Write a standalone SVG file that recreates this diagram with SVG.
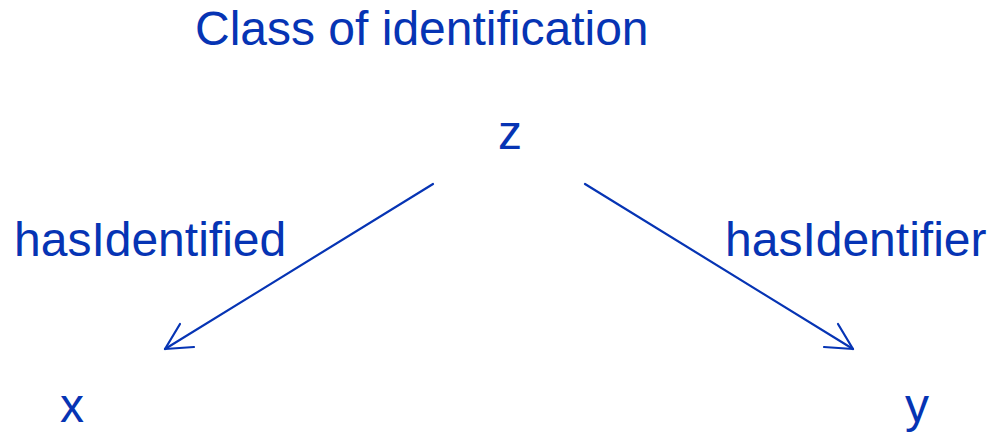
<svg xmlns="http://www.w3.org/2000/svg" width="990" height="432" viewBox="0 0 990 432">
<style>
text{font-family:"Liberation Sans",Arial,sans-serif;font-size:48px;fill:#0634B4}
.c{stroke:#0634B4;stroke-width:2.2;fill:none;stroke-linecap:round;stroke-linejoin:round}
</style>
<rect width="990" height="432" fill="#fff"/>
<g id="title"><text x="195" y="45">Class of identification</text></g>
<g id="node-z"><text x="498" y="149">z</text></g>
<g id="node-x"><text x="60" y="422">x</text></g>
<g id="node-y"><text x="905" y="422">y</text></g>
<g id="connectors">
<g id="edge-hasIdentified">
<path class="c" d="M433,184 L165,349"/>
<path class="c" d="M180,324 L165,349 L194,347"/>
<text x="14" y="256">hasIdentified</text>
</g>
<g id="edge-hasIdentifier">
<path class="c" d="M585,184 L853,349"/>
<path class="c" d="M838,324 L853,349 L824,347"/>
<text x="725" y="256">hasIdentifier</text>
</g>
</g>
</svg>
